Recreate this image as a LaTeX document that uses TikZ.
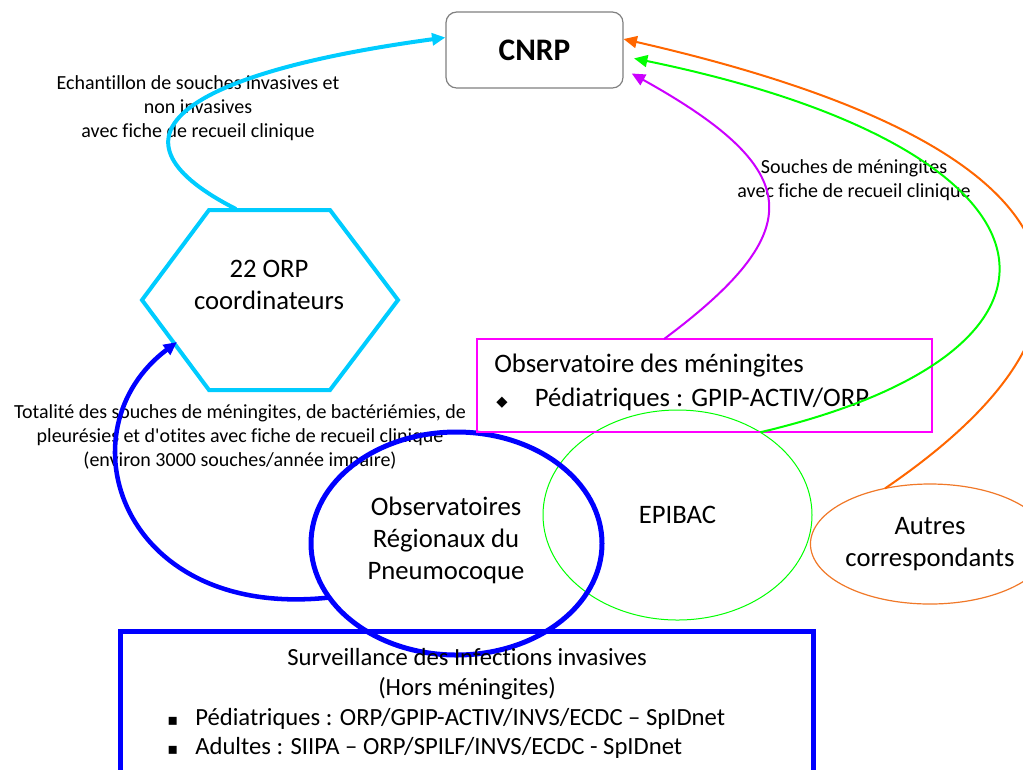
\documentclass[tikz,border=0pt]{standalone}
\usepackage{fontspec}
\setmainfont{Carlito}[Ligatures={TeXOff,NoCommon}]
\newfontfamily\symfont{DejaVu Sans}
\usetikzlibrary{arrows.meta,shapes.geometric}

\definecolor{hexcyan}{RGB}{0,204,255}
\definecolor{orpblue}{RGB}{0,0,255}
\definecolor{menmag}{RGB}{255,0,255}
\definecolor{menfleche}{RGB}{204,0,255}
\definecolor{epivert}{RGB}{0,255,0}
\definecolor{autorange}{RGB}{255,102,0}
\definecolor{autligne}{RGB}{240,120,40}
\definecolor{cadregris}{RGB}{128,128,128}

\tikzset{
  etiquette/.style={align=center,font=\fontsize{15}{18}\selectfont},
  texte/.style={font=\fontsize{20}{24}\selectfont},
  textebas/.style={font=\fontsize{18.5}{22.5}\selectfont},
  fleche/.style={-{Triangle[length=10pt,width=9pt]}},
}

\begin{document}
\begin{tikzpicture}[x=0.75pt,y=-0.75pt]
  \useasboundingbox (0,0) rectangle (1023,769);
  \clip (0,0) rectangle (1023,769);

  % CNRP
  \node[draw=cadregris,line width=0.9pt,rounded corners=8pt,minimum width=132.75pt,minimum height=57pt,font=\fontsize{23.5}{28}\selectfont\bfseries] (CNRP) at (534.5,50) {CNRP};

  % ORP coordinateurs
  \draw[hexcyan,line width=3pt] (209,210) -- (330,210) -- (398,300) -- (330,390) -- (209,390) -- (142,300) -- cycle;
  \node[texte,align=center] (ORP) at (269,285) {22 ORP\\coordinateurs};
  \coordinate (ORPhaut) at (236,209);
  \coordinate (ORPbas) at (177,342);

  % Etiquettes
  \node[etiquette] (EtiqEchant) at (198,108) {Echantillon de souches invasives et\\non invasives\\avec fiche de recueil clinique};
  \node[etiquette] (EtiqTotal) at (240,437) {Totalité des souches de méningites, de bactériémies, de\\pleurésies et d'otites avec fiche de recueil clinique\\(environ 3000 souches/année impaire)};
  \node[etiquette] (EtiqSouches) at (854,180) {Souches de méningites\\avec fiche de recueil clinique};

  % EPIBAC et autres
  \node[ellipse,draw=epivert,line width=0.75pt,minimum width=201.75pt,minimum height=157.5pt,inner sep=0pt,outer sep=0pt,texte] (EPIBAC) at (677.5,515) {EPIBAC};
  \node[ellipse,draw=autligne,line width=0.9pt,minimum width=177pt,minimum height=90pt,inner sep=0pt,outer sep=0pt,texte,align=center] (Autres) at (930,544) {Autres\\correspondants};

  % Observatoires regionaux
  \node[ellipse,draw=orpblue,line width=3.75pt,minimum width=218.25pt,minimum height=167.25pt,inner sep=0pt,outer sep=0pt] (Observatoires) at (456.5,543.5) {};
  \node[texte,align=center] (ObsTexte) at (446,540) {Observatoires\\Régionaux du\\Pneumocoque};

  % Observatoire des meningites
  \node[draw=menmag,line width=1.1pt,minimum width=341.25pt,minimum height=69.75pt,inner sep=0pt,outer sep=0pt] (Meningites) at (704.5,385.5) {};
  \node[texte,anchor=west,inner sep=0pt] (MenTitre) at (494,366) {Observatoire des méningites};
  \node[texte,anchor=west,inner sep=0pt] (MenPed) at (496,399) {\makebox[29pt][l]{\fontsize{11}{11}\symfont ◆}Pédiatriques : GPIP-ACTIV/ORP};

  % Surveillance
  \node[draw=orpblue,line width=3.75pt,minimum width=519.75pt,minimum height=126.75pt,inner sep=0pt,outer sep=0pt] (Surveillance) at (466.5,715.5) {};
  \node[textebas,align=center] (SurvTitre) at (467,674) {Surveillance des Infections invasives\\(Hors méningites)};
  \node[textebas,anchor=west,inner sep=0pt] (SurvPed) at (167,719) {\makebox[21pt][l]{\fontsize{12}{12}\symfont ▪}Pédiatriques : ORP/GPIP-ACTIV/INVS/ECDC – SpIDnet};
  \node[textebas,anchor=west,inner sep=0pt] (SurvAdu) at (167,748) {\makebox[21pt][l]{\fontsize{12}{12}\symfont ▪}Adultes : SIIPA – ORP/SPILF/INVS/ECDC - SpIDnet};

  % Flux
  \draw[fleche,hexcyan,line width=3pt] (ORPhaut) .. controls (100,140) and (170,75) .. (CNRP.172.5);
  \draw[fleche,orpblue,line width=3.4pt] (Observatoires.203.5) .. controls (120,620) and (60,430) .. (ORPbas);
  \draw[fleche,menfleche,line width=1.5pt,shorten >=7pt] (Meningites.131) .. controls (810,230) and (805,170) .. (CNRP.-12.7);
  \draw[fleche,epivert,line width=1.5pt,shorten >=8pt] (EPIBAC.45) .. controls (1110,350) and (1080,150) .. (CNRP.-4.5);
  \draw[fleche,autorange,line width=1.5pt] (Autres.129.5) .. controls (1132,320) and (1110,150) .. (CNRP.7.5);
\end{tikzpicture}
\end{document}
